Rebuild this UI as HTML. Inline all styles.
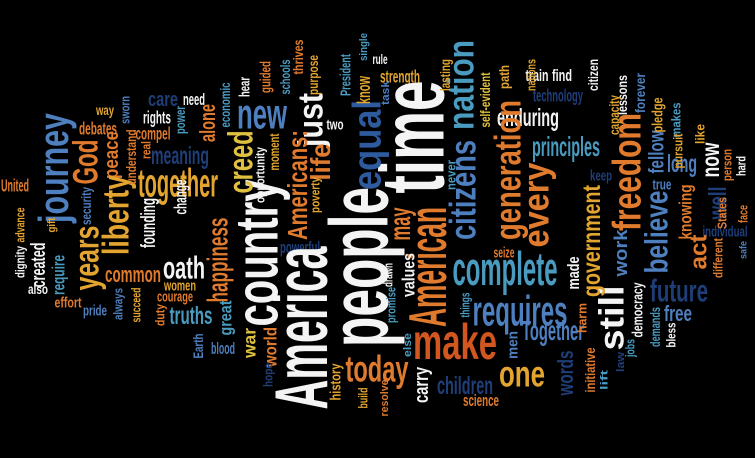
<!DOCTYPE html>
<html><head><meta charset="utf-8"><style>
html,body{margin:0;padding:0;background:#000;width:755px;height:458px;overflow:hidden}
svg{display:block}
text{font-family:"Liberation Sans Narrow","Liberation Sans",sans-serif;font-weight:bold}
</style></head><body>
<svg id="cloud" width="755" height="458" viewBox="0 0 755 458"></svg>
<script>
const C={W:"#f4f4f4",B:"#4e7fbf",T:"#4a9bc0",N:"#1f3e78",O:"#e07b2e",G:"#e3a52f",Y:"#e0c040",R:"#d2561f",E:"#2e5a9e"};
// word, cx, cy, length, thickness, vertical(1)/horizontal(0), color
const words=[
["make",455,341,84,40,0,"R"],["together",178,182,80,32,0,"G"],["meaning",180,155,58,20,0,"N"],
["care",163,99,30,16,0,"N"],["need",194,99,22,13,0,"W"],["rights",157,117,28,14,0,"W"],
["compel",153,133,35,14,0,"O"],["debates",98,128,38,14,0,"O"],["way",105,110,18,11,0,"G"],
["oath",184,267,42,25,0,"W"],["common",133,274,56,18,0,"O"],["women",180,285,32,12,0,"G"],
["courage",175,296,36,12,0,"O"],["effort",68,302,27,12,0,"O"],["pride",95,310,24,12,0,"B"],
["truths",191,315,43,20,0,"T"],["blood",223,348,24,13,0,"B"],["powerful",300,247,40,13,0,"N"],
["also",38,289,20,11,0,"W"],["United",15,185,28,14,0,"O"],["two",335,124,17,12,0,"W"],
["rule",380,59,15,11,0,"W"],["strength",400,76,40,14,0,"G"],["train",537,75,23,13,0,"W"],
["find",562,75,20,13,0,"W"],["technology",558,95,50,14,0,"N"],["enduring",528,117,62,20,0,"W"],
["principles",566,146,68,22,0,"T"],["keep",601,175,22,12,0,"N"],["true",662,184,19,12,0,"B"],
["complete",505,268,105,38,0,"T"],["requires",520,310,95,34,0,"B"],["Together",553,330,62,22,0,"B"],
["one",522,373,46,30,0,"G"],["children",465,385,56,20,0,"N"],["science",481,400,36,13,0,"O"],
["seize",504,252,21,12,0,"O"],["individual",725,231,45,12,0,"N"],["future",679,290,58,25,0,"N"],
["free",678,313,28,18,0,"B"],["long",682,163,30,20,0,"B"],["today",377,368,63,30,0,"O"],
["new",262,113,50,34,0,"B"],
["people",358,267,160,66,1,"W"],["America",300,328,163,60,1,"W"],["time",411,137,113,72,1,"W"],
["country",256,253,147,48,1,"W"],["equal",366,145,90,32,1,"E"],["just",310,120,54,28,1,"W"],
["life",320,162,37,22,1,"O"],["Americans:",297,185,110,22,1,"O"],["creed",240,162,63,28,1,"Y"],
["may",399,224,33,24,1,"O"],
["journey",53,168,110,33,1,"B"],["God",85,162,45,28,1,"O"],["peace",111,155,48,16,1,"O"],
["liberty",115,215,80,30,1,"G"],["years",86,258,65,28,1,"G"],["happiness",217,260,85,23,1,"O"],
["great",225,318,35,14,1,"T"],["war",249,343,30,14,1,"Y"],["world",270,347,40,14,1,"O"],
["hope",268,375,24,10,1,"N"],["history",335,382,37,12,1,"G"],["build",363,398,21,10,1,"G"],
["nation",460,85,90,30,1,"T"],["citizens",462,190,100,30,1,"B"],["generation",507,170,140,30,1,"O"],
["every",535,205,85,30,1,"O"],["freedom",626,172,118,32,1,"O"],["American",427,267,120,42,1,"O"],
["still",611,318,65,28,1,"W"],["words",565,373,45,18,1,"N"],
["government",591,241,112,20,1,"G"],["work",620,253,47,15,1,"B"],["believe",656,232,83,26,1,"B"],
["act",698,252,35,19,1,"O"],["knowing",685,212,55,14,1,"O"],["well",717,203,33,20,1,"N"],
["now",710,160,35,20,1,"W"],["fellow",656,152,43,17,1,"B"],["carry",421,385,36,16,1,"W"],
["values",408,275,44,14,1,"W"],["made",573,273,33,13,1,"W"],["men",512,345,28,12,1,"B"],
["promise",391,305,36,10,1,"T"],["drawn",388,275,24,10,1,"W"],["else",407,345,24,9,1,"T"],
["resolve",384,398,37,9,1,"O"],["initiative",590,370,45,11,1,"O"],["lift",604,380,20,8,1,"T"],
["law",620,362,20,9,1,"N"],["jobs",630,348,18,10,1,"T"],["democracy",637,310,55,12,1,"W"],
["demands",655,327,40,11,1,"T"],["bless",671,335,25,10,1,"W"],["harm",582,318,30,10,1,"O"],
["things",465,305,25,10,1,"T"],["different",718,258,40,10,1,"O"],["safe",743,250,18,8,1,"B"],
["States",722,213,32,10,1,"O"],["face",743,214,18,10,1,"O"],["person",727,165,32,10,1,"O"],
["hard",741,166,20,10,1,"W"],["like",700,134,20,10,1,"G"],["makes",676,120,35,10,1,"T"],
["pursuit",678,151,35,10,1,"G"],["pledge",657,115,35,12,1,"G"],["forever",640,93,40,11,1,"B"],
["lessons",622,95,40,11,1,"W"],["capacity",614,115,40,11,1,"G"],["citizen",593,75,32,11,1,"W"],
["nations",531,75,32,10,1,"G"],["path",504,77,24,11,1,"G"],["self-evident",485,100,55,11,1,"Y"],
["lasting",445,75,32,11,1,"G"],["task",385,93,24,9,1,"B"],["never",451,175,30,10,1,"T"],
["know",363,90,28,15,1,"G"],["single",363,47,28,9,1,"T"],["President",345,75,42,12,1,"T"],
["purpose",313,75,40,11,1,"G"],["thrives",298,57,35,11,1,"O"],["schools",285,77,35,11,1,"T"],
["guided",265,77,32,12,1,"O"],["hear",244,87,20,12,1,"W"],["economic",225,105,45,11,1,"T"],
["alone",207,123,38,18,1,"O"],["power",180,120,28,11,1,"T"],["sworn",125,110,28,10,1,"B"],
["understand",131,157,55,11,1,"O"],["real",146,150,18,10,1,"O"],["moment",274,152,37,11,1,"G"],
["opportunity",260,175,56,10,1,"W"],["poverty",315,195,36,10,1,"G"],["security",86,206,38,11,1,"B"],
["founding",148,223,50,16,1,"W"],["change",180,197,35,14,1,"W"],["dignity",20,262,32,10,1,"W"],
["advance",20,225,35,10,1,"G"],["gift",51,225,15,9,1,"G"],["created",38,265,45,16,1,"W"],
["require",58,275,40,14,1,"T"],["always",118,304,32,10,1,"B"],["succeed",136,305,35,10,1,"G"],
["duty",160,315,22,10,1,"O"],["Earth",198,346,25,11,1,"B"]
];
const svg=document.getElementById('cloud');
const NS="http://www.w3.org/2000/svg";
for(const w of words){
  const [s,cx,cy,len,th,v,c]=w;
  const t=document.createElementNS(NS,'text');
  const fs=th*1.25;
  
  
  t.setAttribute('x',cx);
  t.setAttribute('y',cy+fs*0.36);
  t.setAttribute('text-anchor','middle');
  t.setAttribute('font-size',fs.toFixed(1));
  t.setAttribute('textLength',len);
  t.setAttribute('lengthAdjust','spacingAndGlyphs');
  t.setAttribute('fill',C[c]);
  if(v) t.setAttribute('transform','rotate(-90 '+cx+' '+cy+')');
  t.textContent=s;
  svg.appendChild(t);
}
</script>
</body></html>
